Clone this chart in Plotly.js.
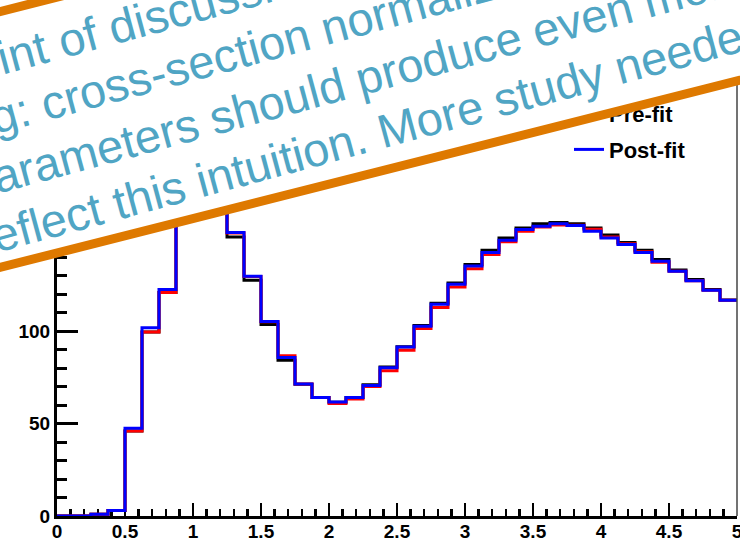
<!DOCTYPE html>
<html>
<head>
<meta charset="utf-8">
<script src="https://cdn.plot.ly/plotly-3.0.1.min.js"></script>
<style>
  html, body { margin: 0; padding: 0; background: #ffffff; }
  #chart { width: 740px; height: 548px; }
</style>
</head>
<body>
<div id="chart"></div>
<script>
// ---------------- data ----------------
const binEdges = [0, 0.125, 0.25, 0.375, 0.5, 0.625, 0.75, 0.875, 1, 1.125, 1.25, 1.375, 1.5, 1.625, 1.75, 1.875,
  2, 2.125, 2.25, 2.375, 2.5, 2.625, 2.75, 2.875, 3, 3.125, 3.25, 3.375, 3.5, 3.625, 3.75, 3.875,
  4, 4.125, 4.25, 4.375, 4.5, 4.625, 4.75, 4.875, 5];

const preFit = [0, 0, 1, 3, 46, 99.5, 120.8, 170, 183, 175, 150.8, 127.4, 103.5, 84.2, 71.2, 64, 61.5, 64, 71, 80.5,
  91.5, 103, 115, 126, 136, 143.6, 150.3, 155.7, 158, 158.6, 158, 155.7, 151.9, 147.9, 143.6, 138.6, 133, 127.8, 122.4, 116.8];

const redHist = [0, 0, 1, 3, 46, 99.5, 120.8, 171, 184, 176, 153, 129.5, 105, 86.6, 71.4, 64, 60.8, 63.2, 70, 78.5,
  89.6, 101.3, 112.7, 123.8, 133.7, 141.3, 148.3, 153.9, 156.2, 157.3, 157.2, 155, 150.8, 147.2, 142.8, 137.1, 132.3, 127.1, 122, 116.6];

const postFit = [0, 0, 1, 3, 47.5, 101.7, 122.4, 172, 185, 176, 153.2, 129.6, 105.1, 85.7, 71.4, 64.1, 61.6, 64.1, 70.5, 80.1,
  91.3, 102.6, 114.5, 125.3, 135.2, 142.4, 149, 154.8, 156.6, 158, 157, 153.9, 150.3, 146.7, 142.4, 137.7, 132.3, 127.1, 122, 116.6];

const seriesNames = ['Pre-fit', 'Post-fit'];

const bannerLines = [
  'Point of discussion',
  'Warning: cross-section normalization',
  'parameters should produce even more',
  'reflect this intuition. More study needed.'
];
// first characters of each line that fall off the left edge
const bannerHiddenPrefix = ['po', 'Warnin', 'p', 'r'];

// ---------------- layout geometry ----------------
const W = 740, H = 548;
const M = { l: 57, r: 3, t: 20, b: 32 };
const PW = W - M.l - M.r, PH = H - M.t - M.b;
const YMAX = PH / 1.85;

const BANNER_ANG = 14.2;                // banner edge tilt (deg, counter-clockwise)
const TEXT_ANG = 15.1;                  // text tilt
const FONT_SIZE = 47;
const TEXT_COLOR = '#50a5c4';
const ORANGE = '#de7900';
const BORDER = 9;
// banner edge lines (screen y at x = 0)
const EDGE_TOP_Y0 = 12, EDGE_BOT_Y0 = 268;
// baseline screen y at x = 0 for each text line, and x where the visible part starts
const LINE_Y0 = [75.6, 134.4, 193.2, 252];
const LINE_X0 = [-2, -4, -3, -3];

function rot(deg) {
  const t = deg * Math.PI / 180;
  return { c: Math.cos(t), s: Math.sin(t) };
}
function toScreen(r, u, v) { return [u * r.c + v * r.s, -u * r.s + v * r.c]; }
function toPaper(X, Y) { return [(X - M.l) / PW, (M.t + PH - Y) / PH]; }

const cvs = document.createElement('canvas');
const ctx = cvs.getContext('2d');
ctx.font = FONT_SIZE + 'px "Liberation Sans"';
function tw(t) { return ctx.measureText(t).width; }

const annotations = [];
// banner background + orange edges
{
  const r = rot(BANNER_ANG);
  const vTop = EDGE_TOP_Y0 * r.c, vBot = EDGE_BOT_Y0 * r.c;
  const vc = (vTop + vBot) / 2;
  const uc = 300;
  const [X, Y] = toScreen(r, uc, vc);
  const [px, py] = toPaper(X, Y);
  annotations.push({
    xref: 'paper', yref: 'paper', x: px, y: py, xanchor: 'center', yanchor: 'middle',
    text: '\u00a0', showarrow: false, textangle: -BANNER_ANG,
    width: 3200, height: (vBot - vTop) - BORDER,
    bgcolor: '#ffffff', bordercolor: ORANGE, borderwidth: BORDER, borderpad: 0,
    font: { size: 10, color: '#ffffff' }
  });
}
{
  const r = rot(TEXT_ANG);
  bannerLines.forEach((t, i) => {
    const X0 = LINE_X0[i], Y0 = LINE_Y0[i];
    const u0 = X0 * r.c - Y0 * r.s, v0 = X0 * r.s + Y0 * r.c;
    const uc = u0 - tw(bannerHiddenPrefix[i]) + tw(t) / 2;
    const vc = v0 - 0.3465 * FONT_SIZE;
    const [X, Y] = toScreen(r, uc, vc);
    const [px, py] = toPaper(X, Y);
    annotations.push({
      xref: 'paper', yref: 'paper', x: px, y: py, xanchor: 'center', yanchor: 'middle',
      text: t, showarrow: false, textangle: -TEXT_ANG, borderpad: 0, borderwidth: 0,
      font: { family: '"Liberation Sans", Arial, sans-serif', size: FONT_SIZE, color: TEXT_COLOR }
    });
  });
}

function stepY(vals) { return vals.concat([vals[vals.length - 1]]); }

const lineW = 3;
const traces = [
  { x: binEdges, y: stepY(preFit), type: 'scatter', mode: 'lines', name: seriesNames[0],
    line: { shape: 'hv', color: '#000000', width: lineW }, cliponaxis: false, legendgroup: 'a' },
  { x: binEdges, y: stepY(redHist), type: 'scatter', mode: 'lines', name: 'red', showlegend: false,
    line: { shape: 'hv', color: '#ff0000', width: lineW }, cliponaxis: false, legendgroup: 'b' },
  { x: binEdges, y: stepY(postFit), type: 'scatter', mode: 'lines', name: seriesNames[1],
    line: { shape: 'hv', color: '#0000ff', width: lineW }, cliponaxis: false, legendgroup: 'c' }
];

const tickFont = { family: '"Liberation Sans", Arial, sans-serif', size: 19, weight: 'bold', color: '#000000' };

const layout = {
  width: W, height: H,
  margin: M,
  paper_bgcolor: '#ffffff', plot_bgcolor: '#ffffff',
  showlegend: true,
  legend: {
    x: (569 - M.l) / PW, xanchor: 'left',
    y: (M.t + PH - 93) / PH, yanchor: 'top',
    bgcolor: 'rgba(0,0,0,0)', borderwidth: 0,
    font: { family: '"Liberation Sans", Arial, sans-serif', size: 22, weight: 'bold', color: '#000000' },
    traceorder: 'grouped', tracegroupgap: 4
  },
  xaxis: {
    range: [0, 5], tick0: 0, dtick: 0.5,
    ticks: 'inside', ticklen: 13, tickwidth: 2.5, tickcolor: '#000',
    minor: { ticks: 'inside', ticklen: 7, tickwidth: 2.5, tick0: 0, dtick: 0.1, tickcolor: '#000' },
    showline: true, linewidth: 3, linecolor: '#000',
    showgrid: false, zeroline: false,
    tickfont: tickFont, ticklabeloverflow: 'allow', ticklabelstandoff: -4, layer: 'below traces',
    fixedrange: true
  },
  yaxis: {
    range: [0, YMAX], tick0: 0, dtick: 50,
    ticks: 'inside', ticklen: 21, tickwidth: 3, tickcolor: '#000',
    minor: { ticks: 'inside', ticklen: 10, tickwidth: 3, tick0: 0, dtick: 10, tickcolor: '#000' },
    showline: true, linewidth: 3, linecolor: '#000',
    showgrid: false, zeroline: false,
    tickfont: tickFont, ticklabeloverflow: 'allow', layer: 'below traces',
    fixedrange: true
  },
  shapes: [
    { type: 'line', xref: 'paper', yref: 'paper', x0: 1, x1: 1, y0: 0, y1: 1,
      line: { color: '#444444', width: 1.5 }, layer: 'above' }
  ],
  annotations: annotations
};

Plotly.newPlot('chart', traces, layout, { displayModeBar: false, staticPlot: true });
</script>
</body>
</html>
